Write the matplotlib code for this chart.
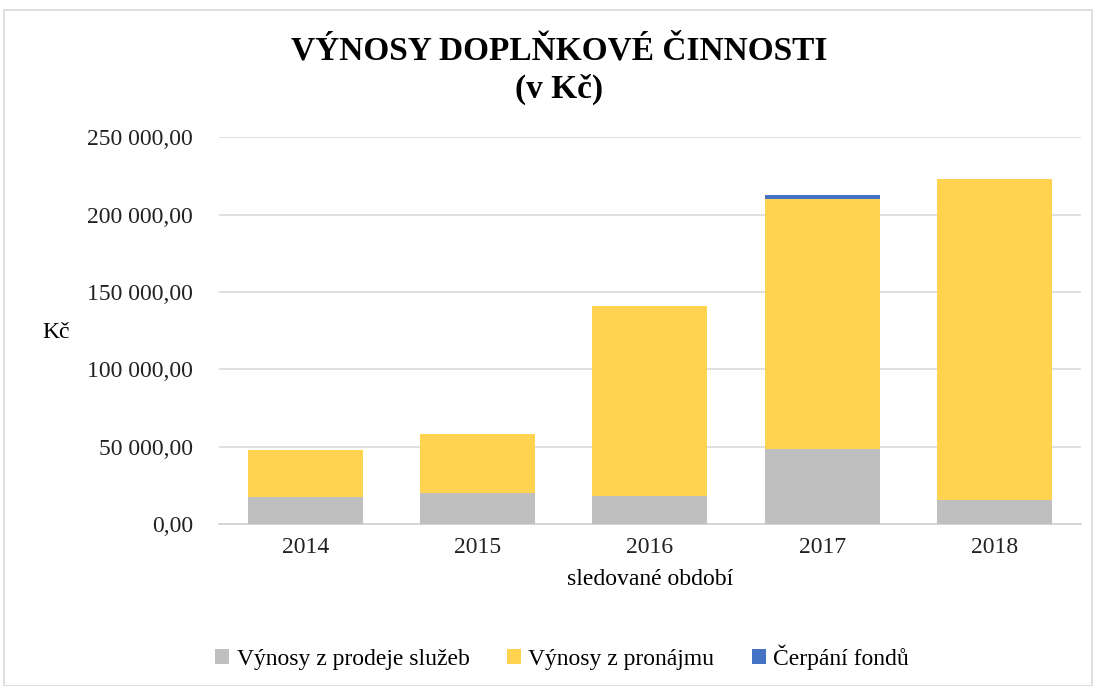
import numpy as np
import matplotlib
matplotlib.use("Agg")
import matplotlib.pyplot as plt
from matplotlib.patches import Rectangle
from matplotlib.ticker import FuncFormatter

plt.rcParams['font.family'] = ['Liberation Serif', 'DejaVu Serif']

# data
roky = ['2014', '2015', '2016', '2017', '2018']
sluzby = [17400, 20000, 18100, 48400, 15300]
pronajem = [30400, 37900, 122700, 161500, 207600]
fondy = [0, 0, 0, 2600, 0]

barvy = ['#bfbfbf', '#ffd34f', '#4472c4']
nazvy = ['Výnosy z prodeje služeb', 'Výnosy z pronájmu', 'Čerpání fondů']

fig = plt.figure(figsize=(10.96, 6.86), dpi=100)
ax = fig.add_axes([0.200, 0.236, 0.786, 0.564])

x = np.arange(len(roky))
w = 0.667
ax.bar(x, sluzby, w, color=barvy[0], label=nazvy[0], zorder=3)
ax.bar(x, pronajem, w, bottom=sluzby, color=barvy[1], label=nazvy[1], zorder=3)
spodek = np.array(sluzby) + np.array(pronajem)
ax.bar(x, fondy, w, bottom=spodek, color=barvy[2], label=nazvy[2], zorder=3)

ax.set_xlim(-0.5, len(roky) - 0.5)
ax.set_ylim(0, 250000)
ax.set_yticks(np.arange(0, 250001, 50000))
ax.yaxis.set_major_formatter(FuncFormatter(lambda v, p: f"{v:,.2f}".replace(',', ' ').replace('.', ',')))
ax.set_xticks(x)
ax.set_xticklabels(roky)
ax.tick_params(axis='both', length=0, labelsize=17, colors='#222222')
ax.tick_params(axis='y', pad=19)
ax.tick_params(axis='x', pad=9)
ax.grid(axis='y', color='#d9d9d9', linewidth=1.2, zorder=0)
for s in ['top', 'right', 'left']:
    ax.spines[s].set_visible(False)
ax.spines['bottom'].set_color('#d0d0d0')
ax.spines['bottom'].set_linewidth(1.2)

ax.set_xlabel('sledované období', fontsize=17, labelpad=8)
fig.text(0.039, 0.515, 'Kč', fontsize=17, ha='left', va='center')

fig.text(0.510, 0.925, 'VÝNOSY DOPLŇKOVÉ ČINNOSTI', fontsize=24, fontweight='bold',
         ha='center', va='center')
fig.text(0.510, 0.870, '(v Kč)', fontsize=24, fontweight='bold', ha='center', va='center')

fig.legend(loc='center', bbox_to_anchor=(0.513, 0.042), ncol=3, frameon=False,
           fontsize=17, handlelength=0.6, handleheight=0.6, handletextpad=0.3,
           columnspacing=1.6)

fig.patches.append(Rectangle((0.004, 0.0), 0.992, 0.985, transform=fig.transFigure,
                             fill=False, edgecolor='#d9d9d9', linewidth=1.2))

fig.savefig('out.png', dpi=100)
